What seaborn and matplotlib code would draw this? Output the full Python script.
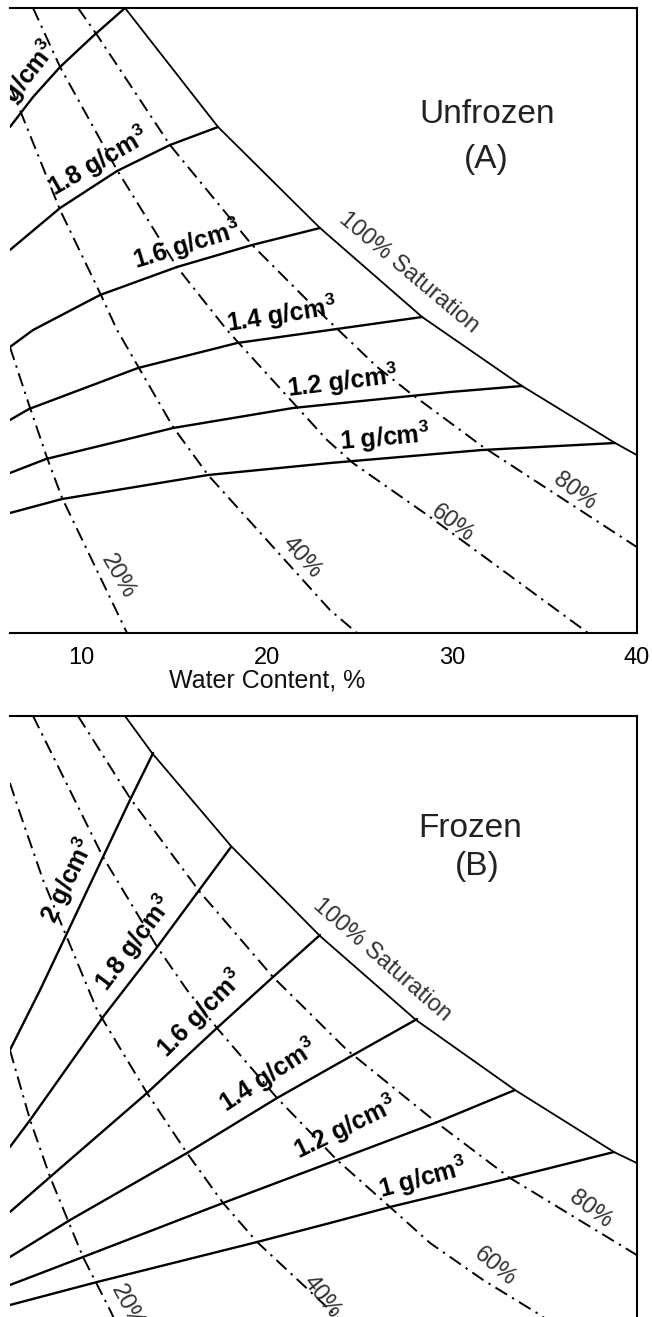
import matplotlib
matplotlib.use("Agg")
import matplotlib.pyplot as plt
import seaborn as sns

# Water content (%) on x, chart value (arbitrary units, 0-2.5) on y
X_TICKS = [10, 20, 30, 40]
DENSITY_NAMES = ["2 g/cm$^\\mathbf{3}$", "1.8 g/cm$^\\mathbf{3}$", "1.6 g/cm$^\\mathbf{3}$",
                 "1.4 g/cm$^\\mathbf{3}$", "1.2 g/cm$^\\mathbf{3}$", "1 g/cm$^\\mathbf{3}$"]
SAT_NAMES = ["20%", "40%", "60%", "80%"]

# ---- Unfrozen (A) ----
unf_sat100_w = [12.34, 17.37, 22.88, 28.40, 33.80, 38.83, 40.0]
unf_sat100_k = [2.50, 2.024, 1.620, 1.264, 0.988, 0.760, 0.712]

unf_dens_w = [
    [6.12, 7.37, 8.83, 10.56, 12.34],
    [6.12, 8.83, 11.91, 14.77, 17.37],
    [6.12, 7.37, 10.99, 15.15, 19.21, 22.88],
    [6.12, 7.15, 13.04, 18.40, 28.40],
    [6.12, 8.07, 14.94, 21.42, 29.91, 33.80],
    [6.12, 8.94, 16.83, 23.42, 31.64, 38.83],
]
unf_dens_k = [
    [2.024, 2.144, 2.264, 2.384, 2.500],
    [1.532, 1.700, 1.848, 1.952, 2.024],
    [1.144, 1.212, 1.352, 1.464, 1.552, 1.620],
    [0.852, 0.896, 1.060, 1.160, 1.264],
    [0.640, 0.696, 0.820, 0.900, 0.964, 0.988],
    [0.480, 0.536, 0.632, 0.680, 0.732, 0.760],
]

unf_sat_w = [
    [6.12, 7.21, 8.13, 8.94, 12.45],
    [6.12, 6.66, 8.83, 10.99, 11.91, 14.94, 16.83, 23.42, 24.88],
    [7.37, 8.83, 11.91, 15.15, 17.85, 23.26, 24.66, 28.83, 37.37],
    [9.80, 10.83, 14.77, 19.21, 22.18, 25.97, 27.75, 31.70, 40.0],
]
unf_sat_k = [
    [1.144, 0.900, 0.700, 0.540, 0.0],
    [2.192, 2.092, 1.692, 1.360, 1.212, 0.824, 0.632, 0.092, 0.0],
    [2.500, 2.264, 1.852, 1.464, 1.212, 0.772, 0.680, 0.464, 0.0],
    [2.500, 2.392, 1.952, 1.552, 1.332, 1.064, 0.960, 0.744, 0.344],
]

# ---- Frozen (B) ----
frz_sat100_w = [12.34, 13.80, 18.07, 22.88, 28.07, 33.42, 38.77, 40.0]
frz_sat100_k = [2.50, 2.352, 1.980, 1.620, 1.284, 1.004, 0.756, 0.712]

frz_dens_w = [
    [6.12, 7.75, 9.21, 11.15, 12.61, 13.86],
    [6.12, 7.21, 11.15, 14.08, 18.07],
    [6.12, 8.29, 13.53, 17.31, 20.34, 22.88],
    [6.12, 9.37, 15.69, 20.56, 23.42, 28.13],
    [6.12, 10.07, 17.64, 23.80, 29.10, 33.42],
    [6.12, 10.83, 19.48, 23.42, 26.66, 33.15, 38.77],
]
frz_dens_k = [
    [1.164, 1.404, 1.632, 1.936, 2.164, 2.352],
    [0.776, 0.884, 1.296, 1.576, 1.976],
    [0.516, 0.656, 0.992, 1.252, 1.456, 1.624],
    [0.336, 0.484, 0.752, 0.972, 1.092, 1.288],
    [0.224, 0.336, 0.552, 0.724, 0.872, 1.004],
    [0.144, 0.236, 0.396, 0.472, 0.536, 0.652, 0.756],
]

frz_sat_w = [
    [6.12, 7.21, 8.29, 10.07, 11.53, 11.91],
    [6.12, 6.66, 7.91, 9.10, 10.83, 13.53, 15.69, 17.64, 19.48, 23.42, 24.23],
    [7.37, 11.15, 14.08, 15.69, 17.31, 20.56, 23.80, 26.66, 28.83, 31.70, 34.61, 35.42],
    [9.80, 12.61, 16.39, 20.34, 24.34, 29.21, 33.15, 40.0],
]
frz_sat_k = [
    [1.164, 0.884, 0.656, 0.336, 0.124, 0.064],
    [2.232, 2.112, 1.844, 1.632, 1.324, 0.992, 0.752, 0.552, 0.396, 0.124, 0.064],
    [2.500, 1.936, 1.576, 1.404, 1.252, 0.972, 0.724, 0.536, 0.392, 0.244, 0.112, 0.072],
    [2.500, 2.172, 1.796, 1.456, 1.164, 0.872, 0.652, 0.344],
]

# label placement (x, y, rotation)
unf_dens_lbl = [(6.88, 2.212, 52), (10.88, 1.884, 30), (15.69, 1.552, 17),
                (20.83, 1.272, 9), (24.07, 1.004, 7), (26.39, 0.784, 5)]
unf_sat_lbl = [(11.96, 0.224, -60), (21.91, 0.300, -48), (30.02, 0.440, -37), (36.66, 0.568, -37)]
frz_dens_lbl = [(9.26, 1.844, 64), (12.83, 1.592, 53), (16.39, 1.312, 45),
                (20.07, 1.064, 33), (24.23, 0.856, 26), (28.45, 0.652, 15)]
frz_sat_lbl = [(12.45, 0.136, -62), (22.99, 0.176, -52), (32.34, 0.296, -40), (37.48, 0.528, -37)]

sns.set_style("white")
plt.rcParams["font.family"] = ["Liberation Sans", "DejaVu Sans"]
plt.rcParams["mathtext.fontset"] = "custom"
plt.rcParams["mathtext.rm"] = "Liberation Sans"
plt.rcParams["mathtext.bf"] = "Liberation Sans:bold"

DASHDOT = (0, (7, 3, 1.2, 3))
TXT_GREY = "#333333"

fig = plt.figure(figsize=(6.52, 13.17), dpi=100)
ax_top = fig.add_axes([0.01534, 0.51936, 0.96124, 0.47457])
ax_bot = fig.add_axes([0.01534, -0.01823, 0.96124, 0.47457])


def draw_panel(ax, sat100_w, sat100_k, dens_w, dens_k, sat_w, sat_k,
               dens_lbl, sat_lbl, sat100_lbl):
    sns.lineplot(x=sat100_w, y=sat100_k, ax=ax, color="black", lw=1.3,
                 sort=False, estimator=None)
    for w, k in zip(dens_w, dens_k):
        sns.lineplot(x=w, y=k, ax=ax, color="black", lw=1.7,
                     sort=False, estimator=None)
    for w, k in zip(sat_w, sat_k):
        sns.lineplot(x=w, y=k, ax=ax, color="black", lw=1.4,
                     linestyle=DASHDOT, sort=False, estimator=None)

    for name, (x, y, r) in zip(DENSITY_NAMES, dens_lbl):
        ax.text(x, y, name, rotation=r, rotation_mode="anchor", ha="center",
                va="center", fontsize=18, fontweight="bold", color="black",
                clip_on=True)
    for name, (x, y, r) in zip(SAT_NAMES, sat_lbl):
        ax.text(x, y, name, rotation=r, rotation_mode="anchor", ha="center",
                va="center", fontsize=17, color=TXT_GREY, clip_on=True)
    x, y, r = sat100_lbl
    ax.text(x, y, "100% Saturation", rotation=r, rotation_mode="anchor",
            ha="center", va="center", fontsize=17, color=TXT_GREY, clip_on=True)

    ax.set_xlim(6.124, 40)
    ax.set_ylim(0, 2.5)
    ax.set_yticks([])
    ax.spines["left"].set_visible(False)
    for s in ["top", "right", "bottom"]:
        ax.spines[s].set_linewidth(1.5)
        ax.spines[s].set_color("black")


draw_panel(ax_top, unf_sat100_w, unf_sat100_k, unf_dens_w, unf_dens_k,
           unf_sat_w, unf_sat_k, unf_dens_lbl, unf_sat_lbl, (27.66, 1.440, -40))
draw_panel(ax_bot, frz_sat100_w, frz_sat100_k, frz_dens_w, frz_dens_k,
           frz_sat_w, frz_sat_k, frz_dens_lbl, frz_sat_lbl, (26.23, 1.524, -41))

# top panel axis
ax_top.set_xticks(X_TICKS)
ax_top.set_xticklabels([str(t) for t in X_TICKS])
ax_top.tick_params(axis="x", direction="out", length=6, width=1.3,
                   pad=4, labelsize=17, colors="black")
ax_top.set_xlabel("Water Content, %", fontsize=18, color="#111111")
ax_top.xaxis.set_label_coords((20 - 6.124) / (40 - 6.124), -0.057)
ax_top.set_ylabel("")

ax_bot.set_xticks([])
ax_bot.set_xlabel("")
ax_bot.set_ylabel("")

ax_top.text(31.91, 2.04, "Unfrozen", ha="center", va="baseline",
            fontsize=24, color="#222222")
ax_top.text(31.86, 1.86, "(A)", ha="center", va="baseline",
            fontsize=24, color="#222222")
ax_bot.text(30.99, 2.016, "Frozen", ha="center", va="baseline",
            fontsize=24, color="#222222")
ax_bot.text(31.36, 1.864, "(B)", ha="center", va="baseline",
            fontsize=24, color="#222222")

fig.savefig("out.png", dpi=100)
plt.close(fig)
